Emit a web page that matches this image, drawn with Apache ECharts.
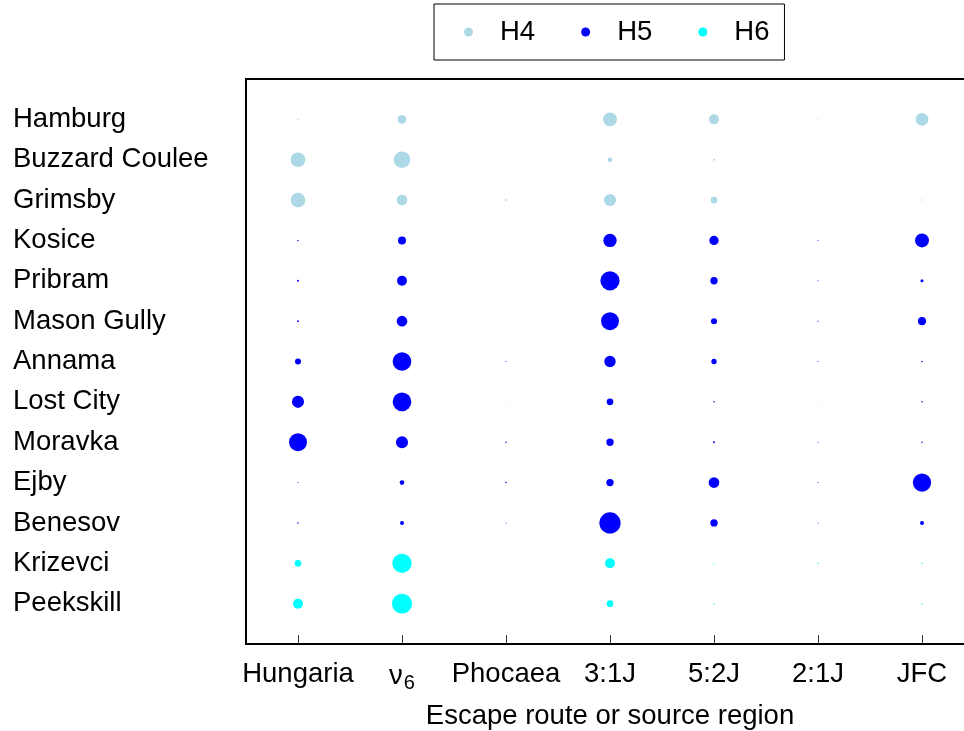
<!DOCTYPE html>
<html>
<head>
<meta charset="utf-8">
<script src="https://cdn.jsdelivr.net/npm/echarts@6/dist/echarts.min.js"></script>
<style>
  html, body { margin: 0; padding: 0; background: #fff; }
  #root { width: 964px; height: 731px; }
</style>
</head>
<body>
<div id="root"></div>
<script>
// escape routes / source regions (x axis)
const routes = ['Hungaria', 'ν6', 'Phocaea', '3:1J', '5:2J', '2:1J', 'JFC'];
// meteorites, top to bottom
const meteorites = ['Hamburg', 'Buzzard Coulee', 'Grimsby', 'Kosice', 'Pribram', 'Mason Gully',
    'Annama', 'Lost City', 'Moravka', 'Ejby', 'Benesov', 'Krizevci', 'Peekskill'];
const classes = ['H4', 'H4', 'H4', 'H5', 'H5', 'H5', 'H5', 'H5', 'H5', 'H5', 'H5', 'H6', 'H6'];

// source probabilities (%) per route
const hamburg       = [0.4, 14,   0,    36, 18.5, 0.2,  30];
const buzzardCoulee = [40,  51.5, 0.2,  4,  0.7,  0.2,  0.2];
const grimsby       = [40,  21,   0.7,  27, 8.3,  0.2,  0.4];
const kosice        = [0.4, 12,   0,    33, 16,   0.2,  36];
const pribram       = [0.7, 18.5, 0,    69, 10,   0.2,  1.7];
const masonGully    = [0.7, 21,   0,    60, 6.7,  0.2,  12];
const annama        = [6.7, 65,   0.2,  24, 5.2,  0.2,  0.4];
const lostCity      = [27,  65,   0.05, 8.3, 0.4, 0.05, 0.4];
const moravka       = [60,  27,   0.4,  10, 0.7,  0.2,  0.4];
const ejby          = [0.2, 4,    0.4,  10, 21,   0.2,  62];
const benesov       = [0.4, 3,    0.2,  84, 10,   0.2,  3];
const krizevci      = [8.3, 69,   0,    18.5, 0.2, 0.4, 0.4];
const peekskill     = [18.5, 74,  0,    8.3, 0.4, 0.05, 0.4];
const rows = [hamburg, buzzardCoulee, grimsby, kosice, pribram, masonGully,
    annama, lostCity, moravka, ejby, benesov, krizevci, peekskill];

const types = ['H4', 'H5', 'H6'];
const colors = { H4: '#add8e6', H5: '#0000ff', H6: '#00ffff' };
const FONT = 'Liberation Sans';
const FS = 27.5;

function seriesData(type) {
    let out = [];
    meteorites.forEach(function (m, i) {
        if (classes[i] !== type) return;
        rows[i].forEach(function (p, j) {
            if (p > 0) out.push([routes[j], m, p]);
        });
    });
    return out;
}

let myCharts = echarts.init(document.getElementById('root'), null, { renderer: 'canvas' });
let option = {
    animation: false,
    textStyle: { fontFamily: FONT },
    legend: {
        data: types,
        left: 434,
        top: 4,
        padding: [14, 15, 14, 30],
        itemGap: 46,
        itemWidth: 9,
        itemHeight: 9,
        icon: 'circle',
        borderColor: '#000',
        borderWidth: 1,
        textStyle: { fontSize: FS, color: '#000', fontFamily: FONT, padding: [0, 0, 0, 22] }
    },
    grid: {
        left: 246,
        top: 79,
        width: 728,
        height: 565,
        outerBoundsMode: 'none',
        show: true,
        borderColor: '#000',
        borderWidth: 2,
        containLabel: false
    },
    xAxis: {
        type: 'category',
        data: routes,
        boundaryGap: true,
        name: 'Escape route or source region',
        nameLocation: 'middle',
        nameGap: 58,
        nameTextStyle: { fontSize: FS, color: '#000', fontFamily: FONT },
        axisLine: { show: false },
        axisTick: { show: true, inside: true, alignWithLabel: true, length: 9, lineStyle: { color: '#333', width: 1 } },
        axisLabel: {
            fontSize: FS,
            color: '#000',
            margin: 16,
            interval: 0,
            formatter: function (v) { return v === 'ν6' ? '{g|ν}{s|6}' : v; },
            rich: {
                g: { fontSize: FS, color: '#000', fontFamily: FONT },
                s: { fontSize: 20, color: '#000', fontFamily: FONT, padding: [13, 0, 0, 1] }
            }
        },
        splitLine: { show: false }
    },
    yAxis: {
        type: 'category',
        data: [''].concat(meteorites, ['']),
        inverse: true,
        boundaryGap: false,
        axisLine: { show: false },
        axisTick: { show: false },
        axisLabel: { fontSize: FS, color: '#000', align: 'left', margin: 233, interval: 0, padding: [6, 0, 0, 0] },
        splitLine: { show: false }
    },
    series: types.map(function (t) {
        return {
            name: t,
            type: 'scatter',
            data: seriesData(t),
            symbol: 'circle',
            symbolSize: function (v) { return Math.sqrt(v[2]) * 2.32; },
            itemStyle: { color: colors[t], opacity: 1 }
        };
    })
};
myCharts.setOption(option);
</script>
</body>
</html>
